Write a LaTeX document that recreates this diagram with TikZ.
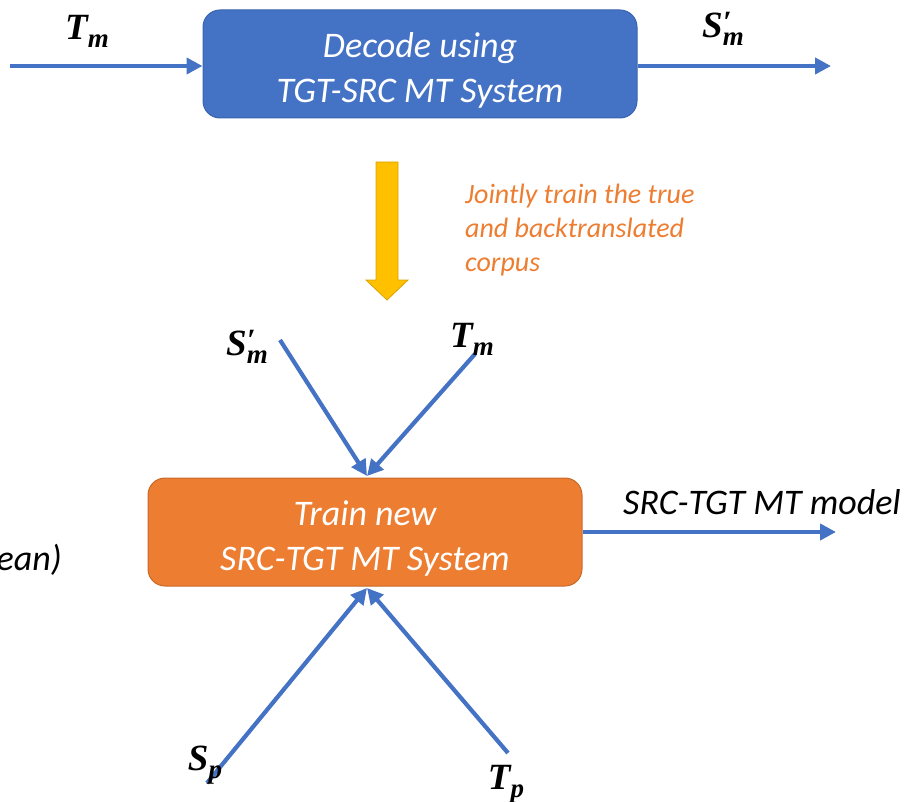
\documentclass[tikz,border=0pt]{standalone}
\usepackage{fontspec}
\setmainfont{Carlito}
\newfontfamily\varfont{Liberation Serif}
\usetikzlibrary{arrows.meta}
\definecolor{flowblue}{HTML}{4472C4}
\definecolor{flowblueedge}{HTML}{3A64B0}
\definecolor{floworange}{HTML}{ED7D31}
\definecolor{floworangeedge}{HTML}{C8692A}
\definecolor{flowyellow}{HTML}{FFC000}
\definecolor{flowyellowedge}{HTML}{D9A300}
% symbol with a subscript, optional prime stacked above the subscript
\newcommand{\varsub}[2]{{\varfont\bfseries\itshape #1\raisebox{-8pt}{\fontsize{27}{27}\selectfont #2}}}
\newcommand{\varprimesub}[2]{{\varfont\bfseries\itshape #1\rlap{\raisebox{5pt}{\fontsize{31}{31}\selectfont ′}}\raisebox{-8pt}{\fontsize{27}{27}\selectfont #2}}}
% invisible strut that pushes the first text line of a box down
\newcommand{\topstrut}{\rule{0pt}{37pt}}
\tikzset{
  procbox/.style={rounded corners=17pt, minimum width=434pt, minimum height=108pt,
    align=center, text=white, font=\fontsize{36}{45}\selectfont\itshape, inner sep=0pt},
  flow/.style={draw=flowblue, line width=4.2pt,
    -{Triangle[length=16pt,width=16pt]}},
  symlabel/.style={font=\fontsize{37}{38}\selectfont, inner sep=0pt},
  plainlabel/.style={font=\fontsize{36}{40}\selectfont\itshape, inner sep=0pt},
  notelabel/.style={font=\fontsize{28}{34}\selectfont\itshape, text=floworange,
    align=left, inner sep=0pt}
}
\begin{document}
\begin{tikzpicture}[x=1pt,y=-1pt]
\useasboundingbox (0,0) rectangle (909,802);

% back-translation stage
\node[procbox, fill=flowblue, draw=flowblueedge, line width=1pt] (decode) at (420,64)
  {\topstrut Decode using\\TGT-SRC MT System};
\coordinate (inleft) at (10,66);
\coordinate (outright) at (831,66);
\draw[flow] (inleft) -- (inleft -| decode.west);
\draw[flow] (outright -| decode.east) -- (outright);
\node[symlabel] (tmtop) at (87,31) {\varsub{T}{m}};
\node[symlabel] (smtop) at (723,29) {\varprimesub{S}{m}};

% block arrow between the stages
\fill[flowyellow, draw=flowyellowedge, line width=0.8pt]
  (376,162) -- (398,162) -- (398,280) -- (408,280) -- (387,300)
  -- (366,280) -- (376,280) -- cycle;
\node[notelabel, anchor=west] (note) at (465,230)
  {Jointly train the true\\and backtranslated\\corpus};

% training stage
\node[procbox, fill=floworange, draw=floworangeedge, line width=1pt] (train) at (365,532)
  {\topstrut Train new\\SRC-TGT MT System};
\coordinate (topjoin) at (367,476);
\coordinate (botjoin) at (367,588);
\coordinate (smstart) at (280,340);
\coordinate (tmstart) at (475,354);
\draw[flow] (smstart) -- (topjoin);
\draw[flow] (tmstart) -- (topjoin);
\node[symlabel] (smmid) at (247,347) {\varprimesub{S}{m}};
\node[symlabel] (tmmid) at (472,339) {\varsub{T}{m}};

\coordinate (spstart) at (207,783);
\coordinate (tpstart) at (508,753);
\draw[flow] (spstart) -- (botjoin);
\draw[flow] (tpstart) -- (botjoin);
\node[symlabel] (sp) at (205,765) {\varsub{S}{p}};
\node[symlabel] (tp) at (506,784) {\varsub{T}{p}};

\coordinate (modelend) at (836,532);
\draw[flow] (train.east) -- (modelend);
\node[plainlabel] (model) at (762,502) {SRC-TGT MT model};

\node[plainlabel, anchor=east] (lang) at (62,560) {ean)};
\end{tikzpicture}
\end{document}
